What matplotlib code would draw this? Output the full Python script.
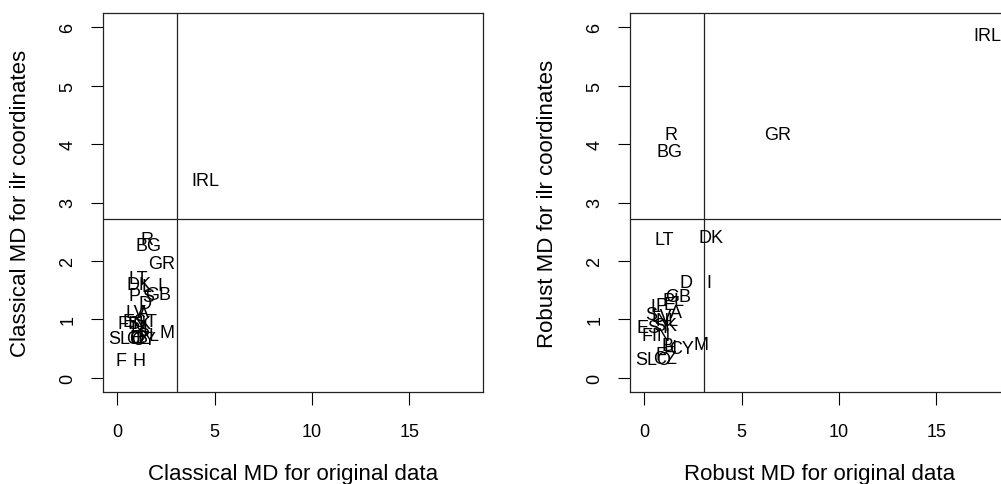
import matplotlib.pyplot as plt
import matplotlib as mpl

mpl.rcParams['font.family'] = ['Liberation Sans', 'DejaVu Sans']

# country labels and Mahalanobis distances
cl_labels = ['IRL', 'R', 'BG', 'GR', 'LT', 'DK', 'I', 'L', 'P', 'S', 'GB', 'D',
             'LV', 'A', 'FIN', 'SK', 'EST', 'NL', 'SLO', 'E', 'CZ', 'B', 'CY',
             'PL', 'M', 'F', 'H']
cl_orig = [4.51, 1.52, 1.61, 2.29, 1.09, 1.14, 2.20, 1.50, 0.92, 1.60, 2.12, 1.45,
           0.95, 1.35, 0.75, 1.15, 1.20, 1.30, 0.45, 0.95, 1.10, 1.25, 1.35,
           1.60, 2.54, 0.20, 1.15]
cl_ilr = [3.37, 2.37, 2.26, 1.96, 1.70, 1.59, 1.58, 1.56, 1.41, 1.40, 1.42, 1.28,
          1.12, 1.12, 0.93, 0.93, 0.96, 0.86, 0.67, 0.70, 0.67, 0.70, 0.66,
          0.72, 0.78, 0.30, 0.30]

rob_labels = ['IRL', 'R', 'BG', 'GR', 'LT', 'DK', 'D', 'I', 'GB', 'L', 'P', 'E',
              'PL', 'A', 'LV', 'S', 'NL', 'EST', 'SK', 'FIN', 'H', 'B', 'CY', 'M',
              'SLO', 'CZ', 'F']
rob_orig = [17.6, 1.37, 1.29, 6.85, 1.02, 3.45, 2.17, 3.31, 1.74, 0.60, 0.90, 1.30,
            1.50, 1.66, 0.90, 0.38, 1.20, 0.50, 1.10, 0.63, 1.31, 1.20, 1.91, 2.93,
            0.46, 1.06, 0.85]
rob_ilr = [5.85, 4.17, 3.88, 4.17, 2.36, 2.41, 1.63, 1.63, 1.39, 1.22, 1.24, 1.25,
           1.32, 1.12, 1.05, 1.09, 0.98, 0.87, 0.90, 0.72, 0.52, 0.55, 0.50, 0.58,
           0.32, 0.34, 0.40]

# cut-offs sqrt(qchisq(0.975, df))
cut_orig = 3.057
cut_ilr = 2.716

xlim = (-0.72, 18.77)
ylim = (-0.24, 6.24)


def panel(ax, labels, x, y, xlab, ylab):
    for lab, xi, yi in zip(labels, x, y):
        ax.text(xi, yi, lab, ha='center', va='center', fontsize=13)
    ax.axvline(cut_orig, color='#222222', lw=0.9)
    ax.axhline(cut_ilr, color='#222222', lw=0.9)
    ax.set_xlim(*xlim)
    ax.set_ylim(*ylim)
    ax.set_xticks([0, 5, 10, 15])
    ax.set_yticks(range(7))
    ax.tick_params(axis='x', length=9, width=0.8, pad=13, labelsize=13)
    ax.tick_params(axis='y', length=9, width=0.8, pad=10, labelsize=13,
                   labelrotation=90)
    for lab in ax.get_yticklabels():
        lab.set_va('center')
    for s in ax.spines.values():
        s.set_linewidth(0.9)
        s.set_color('#222222')
    ax.set_xlabel(xlab, fontsize=16)
    ax.set_ylabel(ylab, fontsize=16)
    ax.xaxis.label.set_va('center')
    ax.yaxis.label.set_va('center')
    ax.xaxis.set_label_coords(0.5, -0.214)
    ax.yaxis.set_label_coords(-0.218, 0.5)


fig = plt.figure(figsize=(10.01, 4.85), dpi=100)
W, H = 1001, 485
ax1 = fig.add_axes([103 / W, 1 - 393 / H, 380 / W, 379 / H])
ax2 = fig.add_axes([630 / W, 1 - 393 / H, 380 / W, 379 / H])

panel(ax1, cl_labels, cl_orig, cl_ilr, 'Classical MD for original data',
      'Classical MD for ilr coordinates')
panel(ax2, rob_labels, rob_orig, rob_ilr, 'Robust MD for original data',
      'Robust MD for ilr coordinates')

plt.savefig('out.png', dpi=100)
